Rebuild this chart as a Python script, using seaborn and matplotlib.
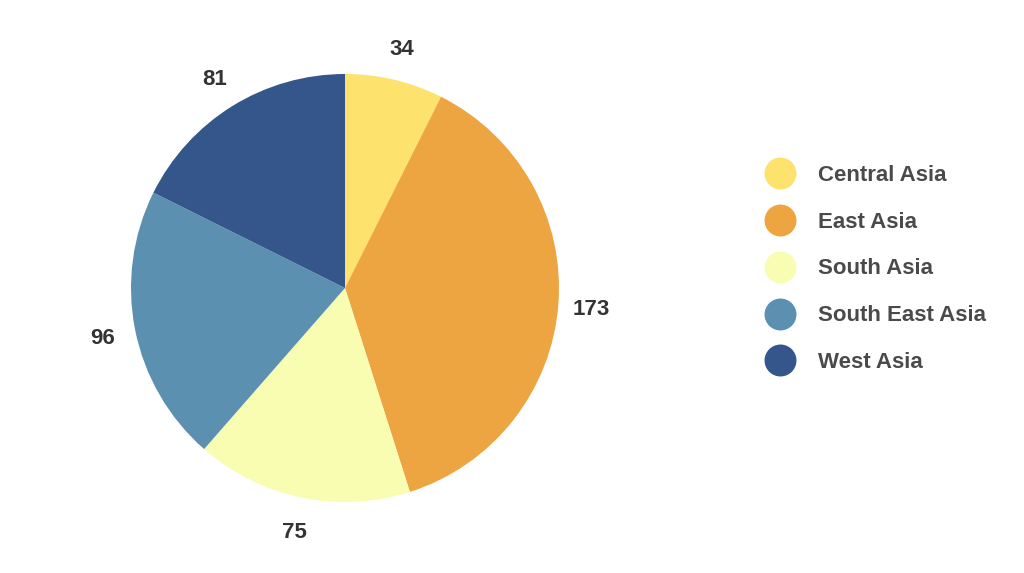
import numpy as np
import matplotlib
matplotlib.use('Agg')
import matplotlib.pyplot as plt
from matplotlib.lines import Line2D
import seaborn as sns

regions = ['Central Asia', 'East Asia', 'South Asia', 'South East Asia', 'West Asia']
counts = [34, 173, 75, 96, 81]
colors = ['#FDE26E', '#EDA541', '#F8FDB1', '#5B90B1', '#34568B']

sns.set_theme(style='white')
plt.rcParams['font.family'] = ['Liberation Sans', 'DejaVu Sans']
palette = sns.color_palette(colors)

fig = plt.figure(figsize=(10.24, 5.73), dpi=100)
ax = fig.add_axes([131 / 1024, 71 / 573, 428 / 1024, 428 / 573])

wedges, _ = ax.pie(counts, colors=palette, startangle=90, counterclock=False,
                   wedgeprops=dict(linewidth=0))
ax.set_xlim(-1, 1)
ax.set_ylim(-1, 1)

# value labels at the middle angle of each wedge
for w, val in zip(wedges, counts):
    ang = np.deg2rad((w.theta1 + w.theta2) / 2)
    ax.text(1.155 * np.cos(ang), 1.155 * np.sin(ang) - 0.01, str(val),
            ha='center', va='center', fontsize=16, fontweight='bold',
            color='#333333')

handles = [Line2D([0], [0], marker='o', linestyle='', markersize=23,
                  markerfacecolor=c, markeredgewidth=0) for c in palette]
leg = fig.legend(handles, regions, loc='center left',
                 bbox_to_anchor=(758 / 1024, 1 - 269 / 573),
                 frameon=False, prop={'size': 16, 'weight': 'bold'},
                 handlelength=1.0, handletextpad=1.21, labelspacing=1.16,
                 borderpad=0)
for t in leg.get_texts():
    t.set_color('#4a4a4a')

fig.savefig('out.png', dpi=100)
